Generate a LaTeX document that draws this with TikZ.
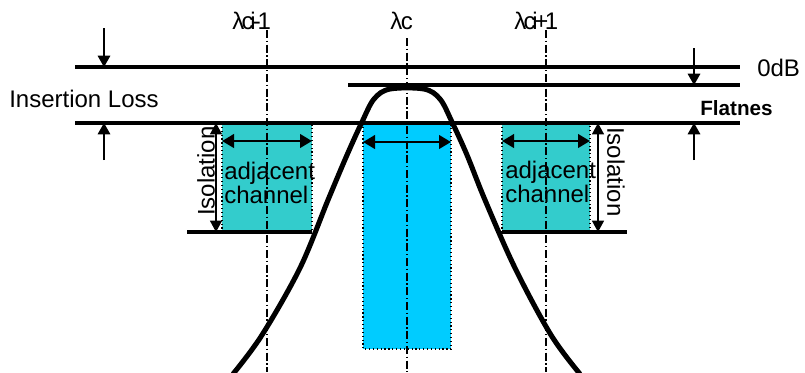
\documentclass[tikz,border=0pt]{standalone}
\usepackage{fontspec}
\setmainfont{Liberation Sans}
\usetikzlibrary{arrows.meta}
\definecolor{adjteal}{HTML}{33CCCC}
\definecolor{chanblue}{HTML}{00CCFF}
\tikzset{
  level/.style={line width=2.4pt},
  thinarrow/.style={line width=0.8pt,-{Triangle[length=8.5pt,width=9.5pt]}},
  isoarrow/.style={line width=0.8pt,{Triangle[length=8.5pt,width=9pt]}-{Triangle[length=8.5pt,width=9pt]}},
  widtharrow/.style={line width=2.2pt,{Triangle[length=9pt,width=10pt]}-{Triangle[length=9pt,width=10pt]}},
  chbox/.style={draw=black,dotted,line width=0.9pt},
  dashdot/.style={line width=0.9pt,dash pattern=on 6pt off 2pt on 1pt off 2pt},
  lbl/.style={inner sep=0pt,font=\fontsize{18}{20}\selectfont},
  adjtext/.style={inner sep=0pt,align=left,font=\fontsize{18}{13.5}\selectfont},
  filt/.style={line width=3.8pt,line join=round}
}
\begin{document}
\begin{tikzpicture}[x=0.75pt,y=-0.75pt]
\useasboundingbox (0,0) rectangle (805,372);
% channel boxes
\fill[adjteal] (222,123) rectangle (312,232);
\draw[chbox] (222,123) rectangle (312,232);
\fill[adjteal] (502,123) rectangle (590,232);
\draw[chbox] (502,123) rectangle (590,232);
\fill[chanblue] (363,123) rectangle (451,349);
\draw[chbox] (363,123) rectangle (451,349);
% dash-dot centre lines
\coordinate (lt) at (267,30); \coordinate (lb) at (267,372);
\coordinate (ct) at (407,38); \coordinate (cb) at (407,372);
\coordinate (rt) at (546,30); \coordinate (rb) at (546,372);
\draw[dashdot] (lt) -- (lb);
\draw[dashdot] (ct) -- (cb);
\draw[dashdot] (rt) -- (rb);
% level lines
\coordinate (z1) at (75,67); \coordinate (z2) at (740,67);
\coordinate (f1) at (348,85); \coordinate (f2) at (740,85);
\coordinate (i1) at (75,123); \coordinate (i2) at (740,123);
\coordinate (sl1) at (187,232); \coordinate (sl2) at (312,232);
\coordinate (sr1) at (502,232); \coordinate (sr2) at (627,232);
\draw[level] (z1) -- (z2);
\draw[level] (f1) -- (f2);
\draw[level] (i1) -- (i2);
\draw[level] (sl1) -- (sl2);
\draw[level] (sr1) -- (sr2);
% filter curve
\draw[filt] plot[smooth,tension=0.55] coordinates {(233,374) (262,335) (300,268) (328,200) (347,155) (362,122) (374,99) (390,89) (424,89) (440,99) (452,122) (467,155) (485,200) (515,268) (551,335) (580,374)};
% insertion loss arrows
\coordinate (ila) at (104,28); \coordinate (ilb) at (104,67);
\coordinate (ilc) at (104,160); \coordinate (ild) at (104,123);
\draw[thinarrow] (ila) -- (ilb);
\draw[thinarrow] (ilc) -- (ild);
% flatness arrows
\coordinate (fla) at (694,48); \coordinate (flb) at (694,85);
\coordinate (flc) at (694,160); \coordinate (fld) at (694,123);
\draw[thinarrow] (fla) -- (flb);
\draw[thinarrow] (flc) -- (fld);
% isolation arrows
\coordinate (isa) at (216,123); \coordinate (isb) at (216,232);
\coordinate (isc) at (598,123); \coordinate (isd) at (598,232);
\draw[isoarrow] (isa) -- (isb);
\draw[isoarrow] (isc) -- (isd);
% width arrows
\coordinate (wl1) at (222,141); \coordinate (wl2) at (312,141);
\coordinate (wc1) at (363,142); \coordinate (wc2) at (451,142);
\coordinate (wr1) at (502,141); \coordinate (wr2) at (590,141);
\draw[widtharrow] (wl1) -- (wl2);
\draw[widtharrow] (wc1) -- (wc2);
\draw[widtharrow] (wr1) -- (wr2);
% labels
\node[lbl,anchor=base west] (il) at (9,107) {Insertion Loss};
\node[lbl,anchor=base west] (odb) at (757,76) {0dB};
\node[inner sep=0pt,anchor=base west,font=\fontsize{15.5}{17}\selectfont\bfseries] (fl) at (700,115) {Flatnes};
\node[lbl,anchor=base west] (lam1) at (232,29) {λ\kern-2pt c\kern-2.5pt i\kern-2pt-\kern-2.5pt1};
\node[lbl,anchor=base west] (lamc) at (390,29) {λ\kern-1pt c};
\node[lbl,anchor=base west] (lam2) at (514,29) {λ\kern-2pt c\kern-2.5pt i\kern-2.5pt+\kern-2.5pt1};
\node[adjtext,anchor=north west] (adjl) at (224,162) {adjacent\\channel};
\node[adjtext,anchor=north west] (adjr) at (505,161) {adjacent\\channel};
\node[lbl,rotate=90] (isol) at (206,171) {Isolation};
\node[lbl,rotate=-90] (isor) at (616,172) {Isolation};
\end{tikzpicture}
\end{document}
